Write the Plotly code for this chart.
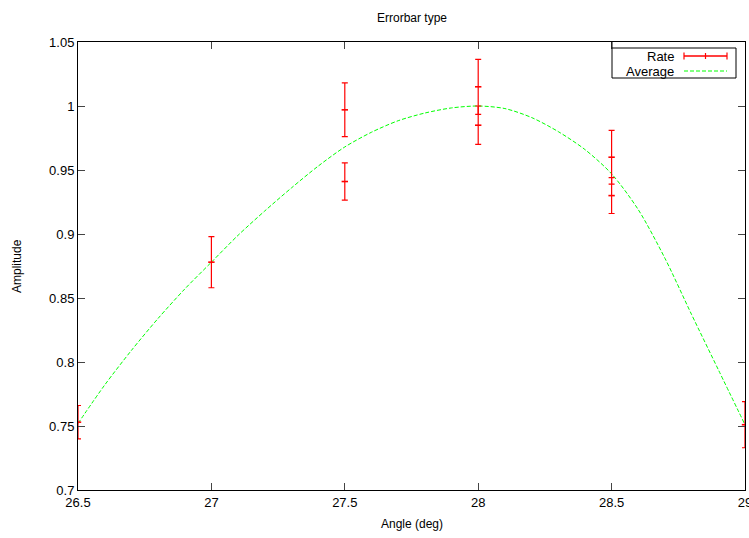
import plotly.graph_objects as go

# Data: measured rates with error bars
rate_x = [26.5, 27.0, 27.5, 27.5, 28.0, 28.0, 28.5, 28.5, 29.0]
rate_y = [0.753, 0.878, 0.997, 0.941, 1.015, 0.985, 0.960, 0.930, 0.751]
rate_err = [0.013, 0.020, 0.021, 0.0145, 0.0215, 0.015, 0.021, 0.014, 0.018]

# Average curve
avg_x = [26.5, 26.6, 26.7, 26.8, 26.9, 27.0, 27.1, 27.2, 27.3, 27.4, 27.5, 27.6, 27.7,
         27.8, 27.9, 28.0, 28.1, 28.2, 28.3, 28.4, 28.5, 28.6, 28.7, 28.8, 28.9, 29.0]
avg_y = [0.752, 0.782, 0.809, 0.834, 0.857, 0.878, 0.899, 0.918, 0.936, 0.953, 0.968,
         0.9795, 0.9885, 0.9945, 0.9985, 1.000, 0.998, 0.991, 0.980, 0.966, 0.947, 0.919,
         0.881, 0.837, 0.794, 0.751]

x_ticks = [26.5, 27, 27.5, 28, 28.5, 29]
x_tick_labels = ["26.5", "27", "27.5", "28", "28.5", "29"]
y_ticks = [0.7, 0.75, 0.8, 0.85, 0.9, 0.95, 1.0, 1.05]
y_tick_labels = ["0.7", "0.75", "0.8", "0.85", "0.9", "0.95", "1", "1.05"]

W, H = 749, 538
L, R, T, B = 78, 745, 42, 490
FONT = "Liberation Sans, Arial, sans-serif"
RED = "#ff0000"


def px(x):
    return (x - L) / (R - L)


def py(y):
    return (B - y) / (B - T)


fig = go.Figure()
fig.add_trace(go.Scatter(
    x=avg_x, y=avg_y, mode="lines", line_shape="spline",
    line=dict(color="#00ff00", width=1, dash="4px,2px", smoothing=0.8),
    showlegend=False, cliponaxis=False,
))
# points drawn as "+" : vertical error bar with caps and a short horizontal arm
fig.add_trace(go.Scatter(
    x=rate_x, y=rate_y, mode="markers",
    marker=dict(size=2, color=RED, opacity=0),
    error_y=dict(type="data", array=rate_err, visible=True, color=RED, thickness=1.2, width=3),
    error_x=dict(type="constant", value=0.012, visible=True, color=RED, thickness=1.6, width=0),
    showlegend=False, cliponaxis=False,
))

axis_common = dict(
    showline=True, linecolor="black", linewidth=1, mirror="ticks",
    ticks="inside", ticklen=7, tickcolor="#444", tickwidth=1,
    showgrid=False, zeroline=False, ticklabeloverflow="allow", automargin=False,
    tickfont=dict(family=FONT, size=13, color="black"),
)

fig.update_xaxes(range=[26.5, 29], tickvals=x_ticks, ticktext=x_tick_labels, **axis_common)
fig.update_yaxes(range=[0.7, 1.05], tickvals=y_ticks, ticktext=y_tick_labels, **axis_common)

annotations = [
    dict(text="Errorbar type", x=0.5, y=py(18), xref="paper", yref="paper",
         showarrow=False, font=dict(family=FONT, size=12, color="black"),
         xanchor="center", yanchor="middle"),
    dict(text="Angle (deg)", x=0.5, y=py(524), xref="paper", yref="paper",
         showarrow=False, font=dict(family=FONT, size=12, color="black"),
         xanchor="center", yanchor="middle"),
    dict(text="Amplitude", x=px(17), y=0.5, xref="paper", yref="paper", textangle=-90,
         showarrow=False, font=dict(family=FONT, size=12, color="black"),
         xanchor="center", yanchor="middle"),
    dict(text="Rate", x=px(676), y=py(56), xref="paper", yref="paper",
         showarrow=False, font=dict(family=FONT, size=13, color="black"),
         xanchor="right", yanchor="middle"),
    dict(text="Average", x=px(676), y=py(71), xref="paper", yref="paper",
         showarrow=False, font=dict(family=FONT, size=13, color="black"),
         xanchor="right", yanchor="middle"),
]

shapes = [
    # legend box
    dict(type="rect", xref="paper", yref="paper", x0=px(612), x1=px(736), y0=py(48), y1=py(78),
         line=dict(color="black", width=1), fillcolor="white", layer="above"),
    dict(type="line", xref="paper", yref="paper", x0=px(612), x1=px(612), y0=py(42), y1=py(48),
         line=dict(color="black", width=1)),
    # Rate sample
    dict(type="line", xref="paper", yref="paper", x0=px(684), x1=px(727), y0=py(56), y1=py(56),
         line=dict(color=RED, width=1.6)),
    dict(type="line", xref="paper", yref="paper", x0=px(684), x1=px(684), y0=py(52.5), y1=py(59.5),
         line=dict(color=RED, width=1.2)),
    dict(type="line", xref="paper", yref="paper", x0=px(727), x1=px(727), y0=py(52.5), y1=py(59.5),
         line=dict(color=RED, width=1.2)),
    dict(type="line", xref="paper", yref="paper", x0=px(705.5), x1=px(705.5), y0=py(53), y1=py(59),
         line=dict(color=RED, width=1.2)),
    # Average sample
    dict(type="line", xref="paper", yref="paper", x0=px(684), x1=px(727), y0=py(71), y1=py(71),
         line=dict(color="#00ff00", width=1, dash="4px,2px")),
]

fig.update_layout(
    width=W, height=H,
    margin=dict(l=L, r=W - R, t=T, b=H - B, pad=0, autoexpand=False),
    paper_bgcolor="white", plot_bgcolor="white",
    annotations=annotations, shapes=shapes,
    font=dict(family=FONT, size=12, color="black"),
    showlegend=False,
)

fig.write_html("out.html", config={"displayModeBar": False},
               post_script="document.body.style.margin='0';document.body.style.overflow='hidden';")
